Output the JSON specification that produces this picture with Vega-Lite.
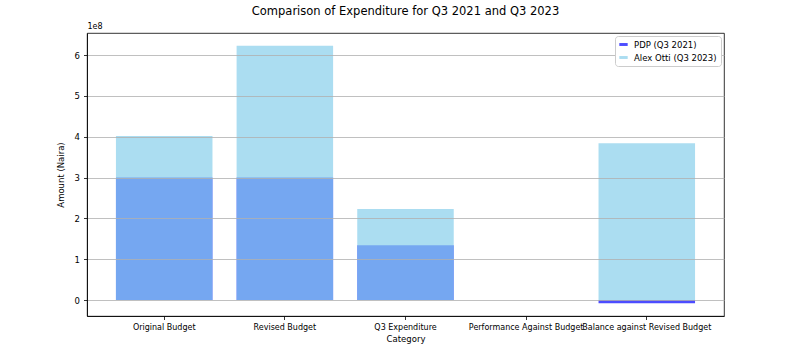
{
  "$schema": "https://vega.github.io/schema/vega-lite/v6.json",
  "width": 637,
  "height": 283,
  "autosize": {"type": "none"},
  "padding": {"left": 87, "top": 33, "right": 63, "bottom": 39},
  "background": "white",
  "title": {
    "text": "Comparison of Expenditure for Q3 2021 and Q3 2023",
    "font": "DejaVu Sans",
    "fontSize": 11.5,
    "fontWeight": "normal",
    "color": "black",
    "offset": 5
  },
  "config": {
    "font": "DejaVu Sans",
    "view": {"stroke": "black", "strokeWidth": 0.8},
    "axis": {
      "labelFont": "DejaVu Sans",
      "titleFont": "DejaVu Sans",
      "labelFontSize": 8,
      "titleFontSize": 8.5,
      "titleFontWeight": "normal",
      "labelColor": "black",
      "titleColor": "black",
      "domainColor": "black",
      "tickColor": "black",
      "domainWidth": 0.8,
      "tickWidth": 0.8,
      "tickSize": 3.5
    },
    "legend": {
      "labelFont": "DejaVu Sans",
      "labelFontSize": 8.5,
      "labelColor": "black"
    }
  },
  "data": {
    "values": [
      {"category": "Original Budget", "series": "PDP (Q3 2021)", "amount": 300000000},
      {"category": "Revised Budget", "series": "PDP (Q3 2021)", "amount": 300000000},
      {"category": "Q3 Expenditure", "series": "PDP (Q3 2021)", "amount": 134000000},
      {"category": "Performance Against Budget", "series": "PDP (Q3 2021)", "amount": 0},
      {"category": "Balance against Revised Budget", "series": "PDP (Q3 2021)", "amount": -8000000},
      {"category": "Original Budget", "series": "Alex Otti (Q3 2023)", "amount": 402000000},
      {"category": "Revised Budget", "series": "Alex Otti (Q3 2023)", "amount": 623000000},
      {"category": "Q3 Expenditure", "series": "Alex Otti (Q3 2023)", "amount": 223000000},
      {"category": "Performance Against Budget", "series": "Alex Otti (Q3 2023)", "amount": 0},
      {"category": "Balance against Revised Budget", "series": "Alex Otti (Q3 2023)", "amount": 384000000}
    ]
  },
  "encoding": {
    "x": {
      "field": "category",
      "type": "nominal",
      "sort": null,
      "scale": {"paddingInner": 0.2, "paddingOuter": 0.24},
      "axis": {"title": "Category", "labelAngle": 0, "labelPadding": 4, "titlePadding": 3}
    },
    "y": {
      "field": "amount",
      "type": "quantitative",
      "scale": {"domain": [-39000000, 654000000], "nice": false, "zero": false}
    },
    "color": {
      "field": "series",
      "type": "nominal",
      "scale": {"domain": ["PDP (Q3 2021)", "Alex Otti (Q3 2023)"], "range": ["blue", "skyblue"]},
      "legend": {
        "title": null,
        "orient": "top-right",
        "offset": 3,
        "padding": 4,
        "strokeColor": "#cccccc",
        "fillColor": "white",
        "cornerRadius": 3,
        "symbolType": "M-1,-0.35H1V0.35H-1Z",
        "symbolSize": 70,
        "symbolOpacity": 0.7,
        "symbolStrokeWidth": 0,
        "rowPadding": 4,
        "labelOffset": 6,
        "zindex": 2
      }
    }
  },
  "layer": [
    {
      "transform": [{"filter": "datum.series === 'PDP (Q3 2021)'"}],
      "mark": {"type": "bar", "opacity": 0.7},
      "encoding": {
        "y": {
          "field": "amount",
          "type": "quantitative",
          "axis": {
            "title": "Amount (Naira)",
            "values": [0, 100000000, 200000000, 300000000, 400000000, 500000000, 600000000],
            "labelExpr": "format(datum.value / 100000000, 'd')",
            "grid": true,
            "gridColor": "#b0b0b0",
            "gridWidth": 0.8,
            "zindex": 1,
            "labelPadding": 4,
            "labelFontSize": 8.5,
            "titlePadding": 9
          }
        }
      }
    },
    {
      "transform": [{"filter": "datum.series === 'Alex Otti (Q3 2023)'"}],
      "mark": {"type": "bar", "opacity": 0.7},
      "encoding": {
        "y": {
          "field": "amount",
          "type": "quantitative",
          "axis": {
            "orient": "left",
            "title": "1e8",
            "titleAngle": 0,
            "titleAlign": "left",
            "titleBaseline": "bottom",
            "titleX": 0,
            "titleY": -3,
            "titleFontSize": 8,
            "domain": false,
            "ticks": false,
            "labels": false,
            "grid": false
          }
        }
      }
    }
  ],
  "resolve": {"axis": {"y": "independent"}}
}
